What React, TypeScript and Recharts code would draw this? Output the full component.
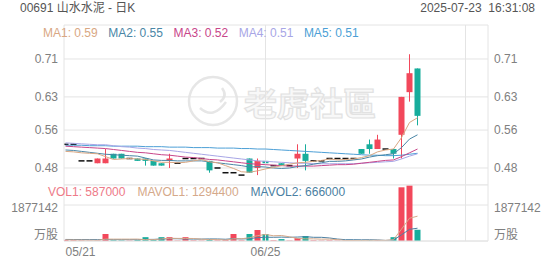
import { ComposedChart, Bar, Line, XAxis, YAxis, CartesianGrid, ReferenceLine, Cell } from 'recharts';

// trading days shown on the chart
const dates = [
  '05/21', '05/22', '05/23', '05/26', '05/27', '05/28', '05/29', '05/30',
  '06/02', '06/03', '06/04', '06/05', '06/06', '06/09', '06/10', '06/11', '06/12', '06/13',
  '06/16', '06/17', '06/18', '06/19', '06/20', '06/23', '06/24', '06/25', '06/26', '06/27', '06/30',
  '07/02', '07/03', '07/04', '07/07', '07/08', '07/09', '07/10', '07/11',
  '07/14', '07/15', '07/16', '07/17', '07/18', '07/21', '07/22', '07/23',
];

const open = [
  0.53, 0.53, 0.495, 0.495, 0.49, 0.49, 0.51, 0.51, 0.5, 0.5, 0.5, 0.495, 0.49, 0.495, 0.49, 0.5, 0.5, 0.5,
  0.495, 0.48, 0.47, 0.47, 0.465, 0.5, 0.48, 0.495, 0.485, 0.49, 0.485,
  0.5, 0.51, 0.495, 0.495, 0.5, 0.5, 0.5, 0.5, 0.52, 0.53, 0.52, 0.52, 0.52, 0.55, 0.64, 0.69,
];
const high = [
  0.53, 0.53, 0.495, 0.495, 0.5, 0.52, 0.51, 0.51, 0.5, 0.5, 0.5, 0.495, 0.49, 0.51, 0.49, 0.5, 0.5, 0.5,
  0.495, 0.48, 0.47, 0.47, 0.465, 0.5, 0.5, 0.5, 0.485, 0.49, 0.485,
  0.53, 0.53, 0.495, 0.495, 0.5, 0.5, 0.5, 0.5, 0.52, 0.54, 0.55, 0.52, 0.52, 0.63, 0.72, 0.69,
];
const low = [
  0.53, 0.53, 0.495, 0.495, 0.49, 0.49, 0.5, 0.5, 0.5, 0.495, 0.485, 0.485, 0.485, 0.48, 0.49, 0.5, 0.5, 0.5,
  0.47, 0.48, 0.47, 0.47, 0.465, 0.47, 0.465, 0.475, 0.485, 0.485, 0.485,
  0.48, 0.475, 0.495, 0.495, 0.5, 0.5, 0.5, 0.5, 0.51, 0.51, 0.52, 0.52, 0.5, 0.5, 0.62, 0.57,
];
const close = [
  0.53, 0.53, 0.495, 0.495, 0.5, 0.5, 0.5, 0.5, 0.5, 0.495, 0.495, 0.485, 0.485, 0.5, 0.49, 0.5, 0.5, 0.5,
  0.475, 0.48, 0.47, 0.47, 0.465, 0.47, 0.495, 0.49, 0.485, 0.485, 0.485,
  0.51, 0.495, 0.495, 0.495, 0.5, 0.5, 0.5, 0.5, 0.51, 0.52, 0.54, 0.52, 0.51, 0.63, 0.68, 0.59,
];

const ma1 = [
  0.515, 0.514, 0.512, 0.511, 0.51, 0.504, 0.498, 0.499, 0.5, 0.499, 0.498, 0.495, 0.492, 0.492, 0.491,
  0.492, 0.495, 0.498, 0.493, 0.491, 0.485, 0.479, 0.472, 0.471, 0.474, 0.478, 0.481, 0.485, 0.488,
  0.491, 0.492, 0.494, 0.496, 0.499, 0.497, 0.498, 0.499, 0.502, 0.506, 0.514, 0.518, 0.52, 0.544, 0.576, 0.586,
];
const ma2 = [
  0.518, 0.517, 0.515, 0.513, 0.511, 0.509, 0.508, 0.507, 0.506, 0.505, 0.501, 0.497, 0.496, 0.496, 0.495,
  0.495, 0.495, 0.495, 0.493, 0.491, 0.489, 0.487, 0.485, 0.482, 0.483, 0.482, 0.48, 0.479, 0.48,
  0.483, 0.485, 0.488, 0.491, 0.494, 0.494, 0.495, 0.497, 0.499, 0.503, 0.506, 0.508, 0.51, 0.523, 0.541, 0.55,
];
const ma3 = [
  0.526, 0.525, 0.524, 0.523, 0.522, 0.521, 0.519, 0.517, 0.515, 0.513, 0.512, 0.51, 0.508, 0.507, 0.505,
  0.503, 0.502, 0.5, 0.498, 0.497, 0.495, 0.493, 0.491, 0.489, 0.488, 0.487, 0.486, 0.485, 0.484,
  0.484, 0.484, 0.484, 0.485, 0.486, 0.487, 0.487, 0.488, 0.49, 0.492, 0.494, 0.496, 0.497, 0.504, 0.512, 0.52,
];
const ma4 = [
  0.533, 0.532, 0.531, 0.53, 0.529, 0.529, 0.527, 0.525, 0.524, 0.522, 0.521, 0.519, 0.518, 0.517, 0.515,
  0.513, 0.511, 0.509, 0.507, 0.505, 0.503, 0.501, 0.499, 0.497, 0.495, 0.494, 0.493, 0.492, 0.491,
  0.49, 0.49, 0.489, 0.489, 0.489, 0.489, 0.489, 0.489, 0.49, 0.491, 0.492, 0.493, 0.494, 0.499, 0.505, 0.51,
];
const ma5 = [
  0.528, 0.528, 0.528, 0.527, 0.527, 0.527, 0.526, 0.526, 0.526, 0.526, 0.525, 0.525, 0.525, 0.524, 0.524,
  0.524, 0.523, 0.523, 0.523, 0.522, 0.522, 0.522, 0.521, 0.521, 0.52, 0.52, 0.519, 0.518, 0.517,
  0.516, 0.515, 0.514, 0.513, 0.512, 0.511, 0.51, 0.509, 0.508, 0.507, 0.507, 0.506, 0.506, 0.507, 0.509, 0.511,
];

const volume = [
  60000, 40000, 30000, 20000, 30000, 365000, 40000, 30000, 20000, 50000, 200000, 60000, 200000, 200000, 20000,
  200000, 30000, 20000, 100000, 30000, 60000, 365000, 30000, 365000, 575000, 365000, 30000, 100000, 20000,
  150000, 260000, 30000, 20000, 30000, 20000, 20000, 30000, 40000, 50000, 48000, 0, 200000, 2800000, 2885000, 587000,
];
const mavol1 = [
  60000, 55000, 50000, 45000, 36000, 97000, 97000, 97000, 97000, 101000, 68000, 72000, 106000, 142000, 136000,
  136000, 130000, 94000, 74000, 76000, 48000, 115000, 117000, 170000, 279000, 340000, 273000, 287000, 218000,
  133000, 112000, 112000, 96000, 98000, 72000, 24000, 24000, 28000, 32000, 37600, 33600, 67600, 619600, 1186600, 1294400,
];
const mavol2 = [
  80000, 78000, 76000, 74000, 72000, 72000, 71000, 70000, 69000, 68500, 82500, 84500, 101500, 119500, 118500,
  102000, 101000, 100000, 108000, 106000, 92000, 122500, 105500, 122000, 177500, 194000, 194000, 202000, 194000,
  206000, 226000, 192500, 191500, 158000, 102500, 68000, 68000, 62000, 65000, 54800, 28800, 45800, 323800, 609300, 666000,
];

const priceTicks = [0.48, 0.56, 0.63, 0.71];
const volTicks = [0, 1877142];
const dateTicks = [0, 25, 50];

const RED = '#f2485b';
const GREEN = '#17ad9c';
const GRID = '#e4e4e4';
const AXIS_TEXT = '#808080';
const FONT = '"Liberation Sans", Arial, "Noto Sans CJK SC", sans-serif';

const X_DOMAIN: [number, number] = [-0.1875, 52.8125];
const P_DOMAIN: [number, number] = [0.4441, 0.7817];
const V_DOMAIN: [number, number] = [0, 2920000];

const rows = dates.map((d, i) => ({
  i,
  date: d,
  open: open[i],
  high: high[i],
  low: low[i],
  close: close[i],
  ma1: ma1[i],
  ma2: ma2[i],
  ma3: ma3[i],
  ma4: ma4[i],
  ma5: ma5[i],
  vol: volume[i],
  mavol1: mavol1[i],
  mavol2: mavol2[i],
}));

const last = rows.length - 1;

const maLegend = [
  { name: 'MA1', value: ma1[last], color: '#d9a783' },
  { name: 'MA2', value: ma2[last], color: '#4a86a6' },
  { name: 'MA3', value: ma3[last], color: '#c8468a' },
  { name: 'MA4', value: ma4[last], color: '#a8a6e6' },
  { name: 'MA5', value: ma5[last], color: '#4c9fd6' },
];

const volLegend = [
  { name: 'VOL1', value: volume[last], color: '#ee7a88' },
  { name: 'MAVOL1', value: mavol1[last], color: '#d5a98a' },
  { name: 'MAVOL2', value: mavol2[last], color: '#4b7fa2' },
];

function Candle(props: any) {
  const { x, y, width, height, payload } = props;
  if (x == null || !payload) return null;
  const top = Math.min(y, y + height);
  const h = Math.abs(height);
  const span = payload.high - payload.low;
  const toY = (v: number) => (span > 0 ? top + ((payload.high - v) / span) * h : top);
  const cx = x + width / 2;

  if (payload.open === payload.close) {
    // flat day: black dash
    return (
      <g>
        {span > 0 && <line x1={cx} x2={cx} y1={top} y2={top + h} stroke="#222" strokeWidth={1} />}
        <rect x={x} y={toY(payload.close) - 0.75} width={width} height={1.5} fill="#111" />
      </g>
    );
  }
  const color = payload.close > payload.open ? RED : GREEN;
  const bTop = toY(Math.max(payload.open, payload.close));
  const bBot = toY(Math.min(payload.open, payload.close));
  return (
    <g>
      <line x1={cx} x2={cx} y1={top} y2={top + h} stroke={color} strokeWidth={1} />
      <rect x={x} y={bTop} width={width} height={Math.max(1, bBot - bTop)} fill={color} />
    </g>
  );
}

function DateTick(props: any) {
  const { x, y, payload } = props;
  const label = dates[payload.value] ?? '';
  return (
    <text x={x} y={y} dy="0.71em" textAnchor={payload.value === 0 ? 'start' : 'middle'} fill={AXIS_TEXT} fontSize={12} fontFamily={FONT}>
      {label}
    </text>
  );
}

function VolTick(props: any) {
  const { x, y, payload, textAnchor } = props;
  const isZero = payload.value === 0;
  return (
    <text x={x} y={isZero ? y - 6 : y + 3} dy="0.355em" textAnchor={textAnchor} fill={AXIS_TEXT} fontSize={12} fontFamily={FONT}>
      {isZero ? '万股' : String(payload.value)}
    </text>
  );
}

export default function App() {
  return (
    <div style={{ position: 'relative', width: 552, height: 265, background: '#fff', fontFamily: FONT, overflow: 'hidden' }}>
      <style>{'body{margin:0}'}</style>

      {/* watermark */}
      <svg width={552} height={265} style={{ position: 'absolute', left: 0, top: 0 }}>
        <circle cx={213} cy={101} r={24} fill="none" stroke="#e6e6e6" strokeWidth={2.5} />
        <path d="M200 108 q13 12 26 -6 M222 88 q6 8 -2 14" fill="none" stroke="#e6e6e6" strokeWidth={2.5} />
        <text x={244} y={116} fontSize={33} fontWeight={700} fill="#f8f8f8" stroke="#e2e2e2" strokeWidth={1.2} fontFamily={'"Noto Sans CJK TC", sans-serif'}>
          老虎社區
        </text>
      </svg>

      <div style={{ position: 'absolute', left: 20, top: 1, fontSize: 12, color: '#555', lineHeight: '14px' }}>00691 山水水泥 - 日K</div>
      <div style={{ position: 'absolute', right: 17, top: 1, fontSize: 12, color: '#555', lineHeight: '14px', whiteSpace: 'pre' }}>2025-07-23  16:31:08</div>

      {/* price panel */}
      <div style={{ position: 'absolute', left: 0, top: 0 }}>
        <ComposedChart width={552} height={185} data={rows} margin={{ top: 25, right: 0, bottom: 0, left: 0 }}>
          <CartesianGrid yAxisId="pl" horizontal vertical={false} stroke={GRID} />
          <XAxis type="number" dataKey="i" domain={X_DOMAIN} allowDataOverflow hide />
          <YAxis yAxisId="pl" orientation="left" width={64} domain={P_DOMAIN} allowDataOverflow ticks={priceTicks}
            tickFormatter={(v: number) => v.toFixed(2)} tickLine={false} tickSize={0} tickMargin={6}
            axisLine={{ stroke: GRID }} tick={{ fill: AXIS_TEXT, fontSize: 12 }} />
          <YAxis yAxisId="pr" orientation="right" width={64} domain={P_DOMAIN} allowDataOverflow ticks={priceTicks}
            tickFormatter={(v: number) => v.toFixed(2)} tickLine={false} tickSize={0} tickMargin={6}
            axisLine={{ stroke: GRID }} tick={{ fill: AXIS_TEXT, fontSize: 12 }} />
          {dateTicks.slice(1).map((t) => (
            <ReferenceLine key={t} yAxisId="pl" x={t} stroke={GRID} />
          ))}
          <Bar yAxisId="pl" dataKey={(d: any) => [d.low, d.high]} shape={Candle} barSize={6} isAnimationActive={false} />
          <Line yAxisId="pl" dataKey="ma5" stroke={maLegend[4].color} strokeWidth={1} dot={false} isAnimationActive={false} />
          <Line yAxisId="pl" dataKey="ma4" stroke={maLegend[3].color} strokeWidth={1} dot={false} isAnimationActive={false} />
          <Line yAxisId="pl" dataKey="ma3" stroke={maLegend[2].color} strokeWidth={1} dot={false} isAnimationActive={false} />
          <Line yAxisId="pl" dataKey="ma2" stroke={maLegend[1].color} strokeWidth={1} dot={false} isAnimationActive={false} />
          <Line yAxisId="pl" dataKey="ma1" stroke={maLegend[0].color} strokeWidth={1} dot={false} isAnimationActive={false} />
        </ComposedChart>
      </div>

      {/* volume panel */}
      <div style={{ position: 'absolute', left: 0, top: 180 }}>
        <ComposedChart width={552} height={85} data={rows} margin={{ top: 5, right: 0, bottom: 0, left: 0 }}>
          <CartesianGrid yAxisId="vl" horizontal vertical={false} stroke={GRID} />
          <XAxis type="number" dataKey="i" domain={X_DOMAIN} allowDataOverflow ticks={dateTicks} interval={0}
            tick={DateTick} tickLine={false} tickSize={0} tickMargin={6} height={24} axisLine={{ stroke: GRID }} />
          <YAxis yAxisId="vl" orientation="left" width={64} domain={V_DOMAIN} allowDataOverflow ticks={volTicks}
            tick={VolTick} tickLine={false} tickSize={0} tickMargin={6} axisLine={{ stroke: GRID }} />
          <YAxis yAxisId="vr" orientation="right" width={64} domain={V_DOMAIN} allowDataOverflow ticks={volTicks}
            tick={VolTick} tickLine={false} tickSize={0} tickMargin={6} axisLine={{ stroke: GRID }} />
          {dateTicks.slice(1).map((t) => (
            <ReferenceLine key={t} yAxisId="vl" x={t} stroke={GRID} />
          ))}
          <Bar yAxisId="vl" dataKey="vol" barSize={6} isAnimationActive={false}>
            {rows.map((r) => (
              <Cell key={r.i} fill={r.close >= r.open ? RED : GREEN} />
            ))}
          </Bar>
          <Line yAxisId="vl" dataKey="mavol2" stroke={volLegend[2].color} strokeWidth={1} dot={false} isAnimationActive={false} />
          <Line yAxisId="vl" dataKey="mavol1" stroke={volLegend[1].color} strokeWidth={1} dot={false} isAnimationActive={false} />
        </ComposedChart>
      </div>

      {/* legends */}
      <div style={{ position: 'absolute', left: 43, top: 26, display: 'flex', gap: 10.5, fontSize: 12, lineHeight: '14px' }}>
        {maLegend.map((m) => (
          <span key={m.name} style={{ color: m.color }}>{m.name}: {m.value.toFixed(2)}</span>
        ))}
      </div>
      <div style={{ position: 'absolute', left: 48, top: 185, display: 'flex', gap: 12, fontSize: 12, lineHeight: '14px' }}>
        {volLegend.map((m) => (
          <span key={m.name} style={{ color: m.color }}>{m.name}: {m.value}</span>
        ))}
      </div>
    </div>
  );
}
